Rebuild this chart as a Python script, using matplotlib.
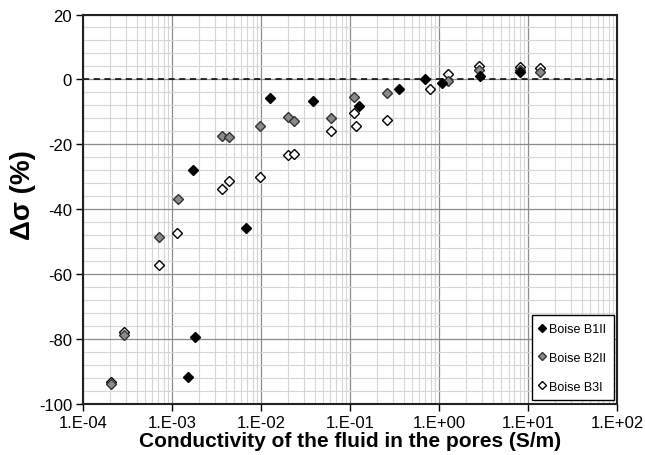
import numpy as np
import matplotlib.pyplot as plt
from matplotlib.ticker import LogLocator, MultipleLocator

plt.rcParams['font.family'] = ['Liberation Sans', 'DejaVu Sans']
plt.rcParams['axes.unicode_minus'] = False

# --- Data ---
b1_x = [1.51e-3, 1.79e-3, 1.70e-3, 6.7e-3, 1.26e-2, 3.82e-2, 0.127, 0.352, 0.685, 1.07, 2.85, 8.0]
b1_y = [-91.8, -79.4, -27.8, -45.9, -5.7, -6.8, -8.1, -2.9, 0.0, -1.0, 1.2, 2.3]

b2_x = [2.03e-4, 2.87e-4, 7.05e-4, 1.15e-3, 3.63e-3, 4.4e-3, 9.75e-3, 2.01e-2, 2.33e-2,
        6.04e-2, 0.1107, 0.262, 1.27, 2.83, 7.98, 13.6]
b2_y = [-94.0, -78.7, -48.7, -36.7, -17.4, -17.6, -14.3, -11.6, -12.8,
        -11.9, -5.3, -4.1, -0.6, 3.0, 3.0, 2.3]

b3_x = [2.03e-4, 2.87e-4, 7.05e-4, 1.14e-3, 3.63e-3, 4.4e-3, 9.75e-3, 2.01e-2, 2.33e-2,
        6.04e-2, 0.110, 0.1156, 0.262, 0.78, 1.27, 2.83, 7.98, 13.6]
b3_y = [-93.3, -77.8, -57.2, -47.2, -33.7, -31.4, -30.0, -23.3, -22.9,
        -15.8, -10.3, -14.5, -12.4, -2.9, 1.75, 4.0, 3.8, 3.4]

xtick_labels = ['1.E-04', '1.E-03', '1.E-02', '1.E-01', '1.E+00', '1.E+01', '1.E+02']

fig = plt.figure(figsize=(6.45, 4.56), dpi=100)
ax = fig.add_axes([0.129, 0.112, 0.828, 0.854])

ax.set_xscale('log')
ax.set_xlim(1e-4, 1e2)
ax.set_ylim(-100, 20)

ax.set_xticks([10.0 ** k for k in range(-4, 3)])
ax.set_xticklabels(xtick_labels)
ax.xaxis.set_minor_locator(LogLocator(base=10, subs=np.arange(2, 10), numticks=20))
ax.yaxis.set_major_locator(MultipleLocator(20))
ax.yaxis.set_minor_locator(MultipleLocator(4))

ax.grid(which='major', color='#8c8c8c', linewidth=0.9)
ax.grid(which='minor', color='#d6d6d6', linewidth=0.8)
ax.set_axisbelow(True)
ax.tick_params(which='major', direction='out', length=5, width=1, labelsize=12, pad=3)
ax.tick_params(which='minor', length=0)
for s in ax.spines.values():
    s.set_linewidth(1.5)
    s.set_color('#222222')

ax.axhline(0, color='black', linestyle=(0, (4, 3)), linewidth=1.1, zorder=2)

ms = 5
ax.plot(b1_x, b1_y, 'D', ms=ms, mfc='black', mec='black', mew=1, ls='none',
        label='Boise B1II', zorder=5)
ax.plot(b2_x, b2_y, 'D', ms=ms, mfc='#8a8a8a', mec='#333333', mew=1, ls='none',
        label='Boise B2II', zorder=4)
ax.plot(b3_x, b3_y, 'D', ms=ms, mfc='white', mec='black', mew=1, ls='none',
        label='Boise B3I', zorder=3)

leg = ax.legend(loc='lower right', fontsize=9, handlelength=0.5, handletextpad=0.3,
                labelspacing=1.35, borderpad=0.6, fancybox=False, framealpha=1,
                edgecolor='black', markerscale=0.8, borderaxespad=0.3)
leg.get_frame().set_linewidth(1.0)

ax.set_xlabel('Conductivity of the fluid in the pores (S/m)', fontsize=15,
              fontweight='bold', labelpad=1)
ax.set_ylabel('Δσ (%)', fontsize=20, fontweight='bold')
ax.yaxis.set_label_coords(-0.088, 0.54)

fig.savefig('out.png', dpi=100)
